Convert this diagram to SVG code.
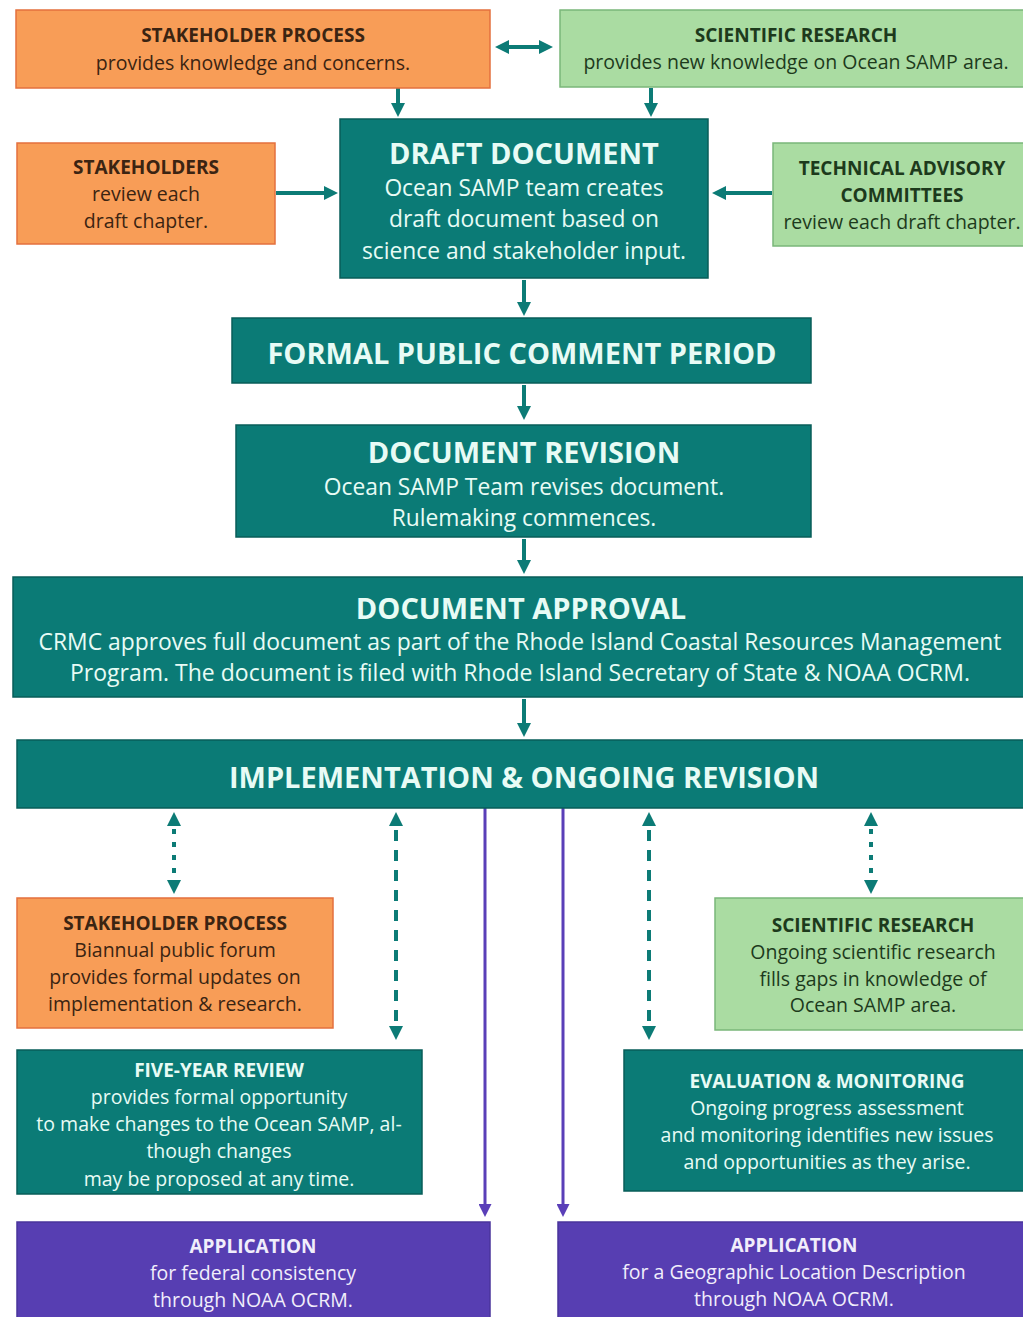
<svg xmlns="http://www.w3.org/2000/svg" width="1023" height="1317" viewBox="0 0 1023 1317">
<defs>
<marker id="ah" viewBox="0 0 10 10" refX="0" refY="5" markerWidth="14" markerHeight="18" markerUnits="userSpaceOnUse" orient="auto-start-reverse">
<path d="M0,0 L10,5 L0,10 z" fill="#0c7b76"/>
</marker>
<marker id="ap" viewBox="0 0 10 10" refX="0" refY="5" markerWidth="13" markerHeight="13" markerUnits="userSpaceOnUse" orient="auto">
<path d="M0,0 L10,5 L0,10 z" fill="#5a3fb8"/>
</marker>
</defs>
<style>
text{font-family:"Open Sans","Noto Sans",sans-serif;text-anchor:middle}
.or{fill:#f89d57;stroke:#e4703e;stroke-width:1.5}
.gr{fill:#aadca2;stroke:#7ab779;stroke-width:1.5}
.tl{fill:#0b7b76;stroke:#085d59;stroke-width:1.5}
.pu{fill:#573eb2;stroke:#4a349c;stroke-width:1.5}
.dk{fill:#3b2412}
.dg{fill:#1d3a1c}
.wt{fill:#e8fbf5}
.wp{fill:#f1eefb}
.h{font-weight:bold;font-size:19px}
.b{font-size:19.5px}
.H{font-weight:bold;font-size:29px}
.B{font-size:22.8px}
.c{stroke:#0c7b76;stroke-width:4;fill:none}
.cp{stroke:#5a3fb8;stroke-width:3;fill:none}
</style>

<g id="connectors">
<path class="c" d="M509,47 L539,47" marker-start="url(#ah)" marker-end="url(#ah)"/>
<path class="c" d="M398,88 L398,103" marker-end="url(#ah)"/>
<path class="c" d="M651,88 L651,103" marker-end="url(#ah)"/>
<path class="c" d="M276,193 L324,193" marker-end="url(#ah)"/>
<path class="c" d="M772,193 L726,193" marker-end="url(#ah)"/>
<path class="c" d="M524,280 L524,302" marker-end="url(#ah)"/>
<path class="c" d="M524,385 L524,406" marker-end="url(#ah)"/>
<path class="c" d="M524,539 L524,560" marker-end="url(#ah)"/>
<path class="c" d="M524,699 L524,723" marker-end="url(#ah)"/>
<path class="c" d="M174,826 L174,880" stroke-dasharray="5 8" stroke-dashoffset="-3" marker-start="url(#ah)" marker-end="url(#ah)"/>
<path class="c" d="M396,826 L396,1026" stroke-dasharray="11 9" stroke-dashoffset="-4" marker-start="url(#ah)" marker-end="url(#ah)"/>
<path class="c" d="M649,826 L649,1026" stroke-dasharray="11 9" stroke-dashoffset="-4" marker-start="url(#ah)" marker-end="url(#ah)"/>
<path class="c" d="M871,826 L871,880" stroke-dasharray="5 8" stroke-dashoffset="-3" marker-start="url(#ah)" marker-end="url(#ah)"/>
<path class="cp" d="M485,808 L485,1204" marker-end="url(#ap)"/>
<path class="cp" d="M563,808 L563,1204" marker-end="url(#ap)"/>
</g>

<g id="stakeholder-process-top">
<rect class="or" x="16" y="10" width="474" height="78"/>
<text class="h dk" x="253" y="42">STAKEHOLDER PROCESS</text>
<text class="b dk" x="253" y="70">provides knowledge and concerns.</text>
</g>

<g id="scientific-research-top">
<rect class="gr" x="560" y="10" width="470" height="77"/>
<text class="h dg" x="796" y="42">SCIENTIFIC RESEARCH</text>
<text class="b dg" x="796" y="69">provides new knowledge on Ocean SAMP area.</text>
</g>

<g id="draft-document">
<rect class="tl" x="340" y="119" width="368" height="159"/>
<text class="H wt" x="524" y="164">DRAFT DOCUMENT</text>
<text class="B wt" x="524" y="196">Ocean SAMP team creates</text>
<text class="B wt" x="524" y="227">draft document based on</text>
<text class="B wt" x="524" y="259">science and stakeholder input.</text>
</g>

<g id="stakeholders">
<rect class="or" x="17" y="143" width="258" height="101"/>
<text class="h dk" x="146" y="174">STAKEHOLDERS</text>
<text class="b dk" x="146" y="201">review each</text>
<text class="b dk" x="146" y="228">draft chapter.</text>
</g>

<g id="technical-advisory-committees">
<rect class="gr" x="773" y="143" width="257" height="103"/>
<text class="h dg" x="902" y="175">TECHNICAL ADVISORY</text>
<text class="h dg" x="902" y="202">COMMITTEES</text>
<text class="b dg" x="902" y="229">review each draft chapter.</text>
</g>

<g id="formal-public-comment">
<rect class="tl" x="232" y="318" width="579" height="65"/>
<text class="H wt" x="522" y="364">FORMAL PUBLIC COMMENT PERIOD</text>
</g>

<g id="document-revision">
<rect class="tl" x="236" y="425" width="575" height="112"/>
<text class="H wt" x="524" y="463">DOCUMENT REVISION</text>
<text class="B wt" x="524" y="495">Ocean SAMP Team revises document.</text>
<text class="B wt" x="524" y="526">Rulemaking commences.</text>
</g>

<g id="document-approval">
<rect class="tl" x="13" y="577" width="1020" height="120"/>
<text class="H wt" x="521" y="619">DOCUMENT APPROVAL</text>
<text class="B wt" x="520" y="650" textLength="963" lengthAdjust="spacingAndGlyphs">CRMC approves full document as part of the Rhode Island Coastal Resources Management</text>
<text class="B wt" x="520" y="681" textLength="900" lengthAdjust="spacingAndGlyphs">Program. The document is filed with Rhode Island Secretary of State &amp; NOAA OCRM.</text>
</g>

<g id="implementation">
<rect class="tl" x="17" y="740" width="1016" height="68"/>
<text class="H wt" x="524" y="788">IMPLEMENTATION &amp; ONGOING REVISION</text>
</g>

<g id="stakeholder-process-forum">
<rect class="or" x="17" y="898" width="316" height="130"/>
<text class="h dk" x="175" y="930">STAKEHOLDER PROCESS</text>
<text class="b dk" x="175" y="957">Biannual public forum</text>
<text class="b dk" x="175" y="984">provides formal updates on</text>
<text class="b dk" x="175" y="1011">implementation &amp; research.</text>
</g>

<g id="scientific-research-ongoing">
<rect class="gr" x="715" y="898" width="315" height="132"/>
<text class="h dg" x="873" y="932">SCIENTIFIC RESEARCH</text>
<text class="b dg" x="873" y="959">Ongoing scientific research</text>
<text class="b dg" x="873" y="986">fills gaps in knowledge of</text>
<text class="b dg" x="873" y="1012">Ocean SAMP area.</text>
</g>

<g id="five-year-review">
<rect class="tl" x="17" y="1050" width="405" height="144"/>
<text class="h wt" x="219" y="1077">FIVE-YEAR REVIEW</text>
<text class="b wt" x="219" y="1104">provides formal opportunity</text>
<text class="b wt" x="219" y="1131">to make changes to the Ocean SAMP, al-</text>
<text class="b wt" x="219" y="1158">though changes</text>
<text class="b wt" x="219" y="1186">may be proposed at any time.</text>
</g>

<g id="evaluation-monitoring">
<rect class="tl" x="624" y="1050" width="406" height="141"/>
<text class="h wt" x="827" y="1088">EVALUATION &amp; MONITORING</text>
<text class="b wt" x="827" y="1115">Ongoing progress assessment</text>
<text class="b wt" x="827" y="1142">and monitoring identifies new issues</text>
<text class="b wt" x="827" y="1169">and opportunities as they arise.</text>
</g>

<g id="application-federal">
<rect class="pu" x="17" y="1222" width="473" height="100"/>
<text class="h wp" x="253" y="1253">APPLICATION</text>
<text class="b wp" x="253" y="1280">for federal consistency</text>
<text class="b wp" x="253" y="1307">through NOAA OCRM.</text>
</g>

<g id="application-glod">
<rect class="pu" x="558" y="1222" width="472" height="100"/>
<text class="h wp" x="794" y="1252">APPLICATION</text>
<text class="b wp" x="794" y="1279">for a Geographic Location Description</text>
<text class="b wp" x="794" y="1306">through NOAA OCRM.</text>
</g>
</svg>
